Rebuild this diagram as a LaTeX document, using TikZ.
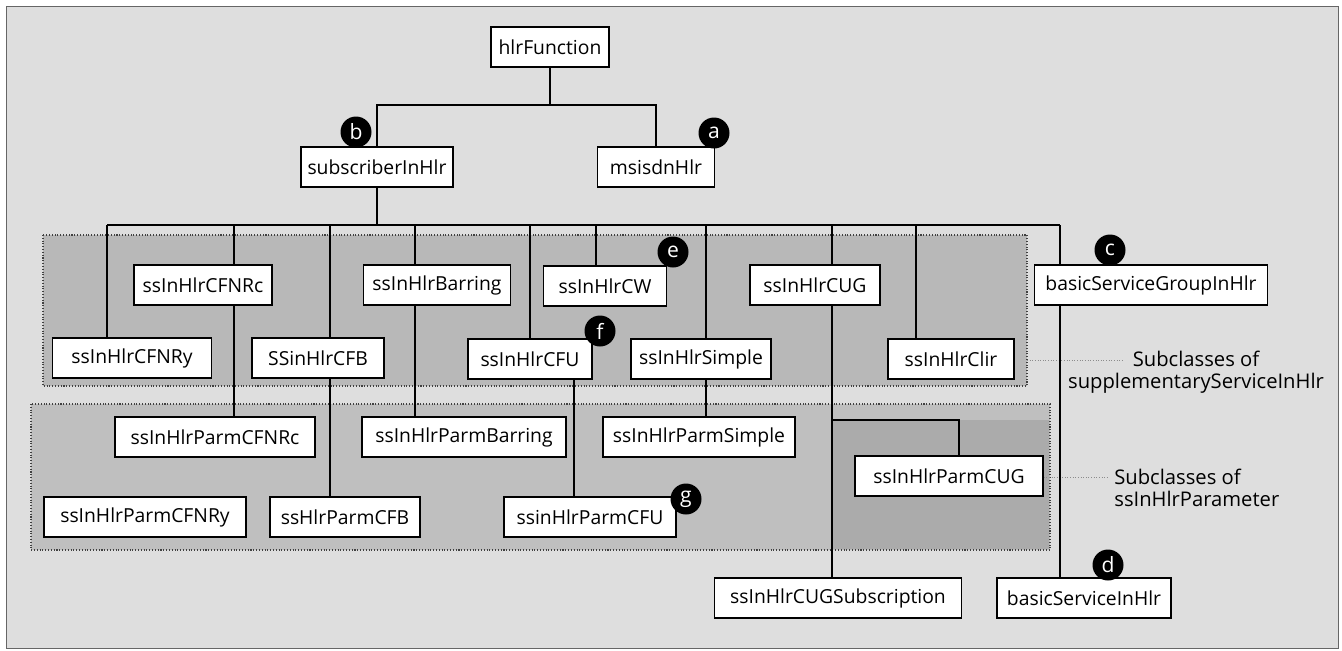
\documentclass[tikz,border=0pt]{standalone}
\usepackage{fontspec}
\setmainfont{Open Sans}
\usetikzlibrary{backgrounds}

\definecolor{paper}{gray}{0.87}
\definecolor{ssfill}{gray}{0.72}
\definecolor{parmfill}{gray}{0.75}
\definecolor{cugfill}{gray}{0.67}

\begin{document}
\begin{tikzpicture}[x=0.02cm, y=-0.02cm,
    cls/.style={draw, line width=0.75pt, fill=white, minimum height=0.8cm, inner sep=0pt,
                font=\fontsize{11}{13}\selectfont},
    tag/.style={circle, fill=black, text=white, minimum size=0.62cm, inner sep=0pt,
                font=\fontsize{12}{13}\selectfont},
    wire/.style={line width=0.6pt},
    grp/.style={draw=black!75, densely dotted, line width=0.6pt},
    leader/.style={black!45, densely dotted, line width=0.5pt},
    note/.style={inner sep=0pt, font=\fontsize{11.5}{12.5}\selectfont}]

    \useasboundingbox (0,0) rectangle (1342,650);

    % Top of the tree
    \node[cls, minimum width=2.36cm] (hlr) at (550,47) {hlrFunction};
    \node[cls, minimum width=3.04cm] (sub) at (377,167) {subscriberInHlr};
    \node[cls, minimum width=2.34cm] (msisdn) at (656,167) {msisdnHlr};

    % Subclasses of supplementaryServiceInHlr
    \node[cls, minimum width=2.76cm] (cfnrc) at (203,285) {ssInHlrCFNRc};
    \node[cls, minimum width=2.94cm] (barring) at (437,285) {ssInHlrBarring};
    \node[cls, minimum width=2.46cm] (cw) at (605,286) {ssInHlrCW};
    \node[cls, minimum width=2.6cm] (cug) at (815,285) {ssInHlrCUG};
    \node[cls, minimum width=3.18cm] (cfnry) at (132,358) {ssInHlrCFNRy};
    \node[cls, minimum width=2.64cm] (cfb) at (318,358) {SSinHlrCFB};
    \node[cls, minimum width=2.48cm] (cfu) at (530,359) {ssInHlrCFU};
    \node[cls, minimum width=2.8cm] (simple) at (701,359) {ssInHlrSimple};
    \node[cls, minimum width=2.52cm] (clir) at (951,359) {ssInHlrClir};

    % Subclasses of ssInHlrParameter
    \node[cls, minimum width=4.0cm] (pcfnrc) at (215,437) {ssInHlrParmCFNRc};
    \node[cls, minimum width=4.08cm] (pbarring) at (464,437) {ssInHlrParmBarring};
    \node[cls, minimum width=3.84cm] (psimple) at (699,437) {ssInHlrParmSimple};
    \node[cls, minimum width=3.76cm] (pcug) at (949,476) {ssInHlrParmCUG};
    \node[cls, minimum width=4.04cm] (pcfnry) at (145,517) {ssInHlrParmCFNRy};
    \node[cls, minimum width=3.0cm] (pcfb) at (345,517) {ssHlrParmCFB};
    \node[cls, minimum width=3.44cm] (pcfu) at (590,517) {ssinHlrParmCFU};

    % Right hand side
    \node[cls, minimum width=4.66cm] (bsg) at (1151,285) {basicServiceGroupInHlr};
    \node[cls, minimum width=4.94cm] (cugsub) at (838,598) {ssInHlrCUGSubscription};
    \node[cls, minimum width=3.48cm] (bs) at (1084,598) {basicServiceInHlr};

    % Group labels
    \node[note, align=center] (labSS) at (1196,372) {Subclasses of\\supplementaryServiceInHlr};
    \node[note, align=left, anchor=west] (labParm) at (1114,488) {Subclasses of\\ssInHlrParameter};

    % Markers
    \node[tag] (tagA) at (714,133) {a};
    \node[tag] (tagB) at (356,132) {b};
    \node[tag] (tagC) at (1110,250) {c};
    \node[tag] (tagD) at (1108,565) {d};
    \node[tag] (tagE) at (673,252) {e};
    \node[tag] (tagF) at (600,331) {f};
    \node[tag] (tagG) at (686,499) {g};

    \begin{pgfonlayer}{background}
        % Paper and frame
        \fill[paper] (6,6) rectangle (1338,648);
        \draw[black!60, line width=0.5pt] (6,6) rectangle (1338,648);

        % Groups
        \draw[grp, fill=ssfill] (43,235) rectangle (1027,386);
        \draw[grp, fill=parmfill] (31,404) rectangle (1050,550);
        \fill[cugfill] (832,420) rectangle (1049,549);

        % Leaders
        \coordinate (ssEnd) at (1124,360);
        \coordinate (parmEnd) at (1107,477);
        \draw[leader] (1027,360) -- (ssEnd);
        \draw[leader] (pcug.east |- parmEnd) -- (parmEnd);

        % hlrFunction
        \coordinate (fork) at (550,105);
        \draw[wire] (hlr.south) -- (fork);
        \draw[wire] (sub.north) |- (fork) -| (msisdn.north);

        % subscriberInHlr
        \coordinate (busL) at (107,225);
        \coordinate (busR) at (1060,225);
        \draw[wire] (sub.south) -- (sub.south |- busL);
        \draw[wire] (busL) -- (busR);
        \foreach \x/\n in {107/cfnry, 234/cfnrc, 330/cfb, 415/barring, 530/cfu,
                           596/cw, 706/simple, 832/cug, 916/clir, 1060/bsg}
            \draw[wire] (\x,225) -- (\n.north -| \x,0);

        % Second level
        \foreach \x/\a/\b in {234/cfnrc/pcfnrc, 330/cfb/pcfb, 415/barring/pbarring,
                              574/cfu/pcfu, 706/simple/psimple, 832/cug/cugsub, 1060/bsg/bs}
            \draw[wire] (\a.south -| \x,0) -- (\b.north -| \x,0);
        \coordinate (cugfork) at (832,420);
        \draw[wire] (cugfork) -| ([xshift=0.2cm]pcug.north);
    \end{pgfonlayer}
\end{tikzpicture}
\end{document}
